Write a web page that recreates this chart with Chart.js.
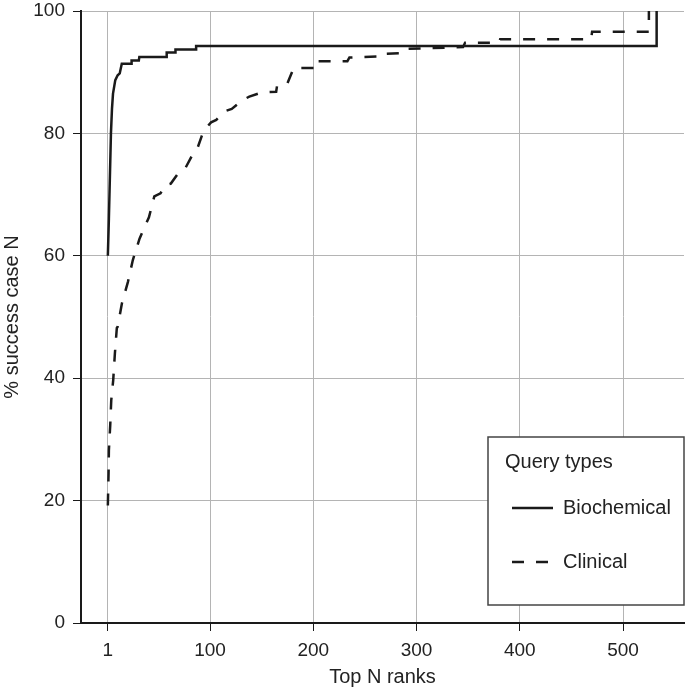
<!DOCTYPE html>
<html>
<head>
<meta charset="utf-8">
<script src="https://cdn.jsdelivr.net/npm/chart.js@4/dist/chart.umd.min.js"></script>
<style>
	body { margin: 0; background: #fff; }
	canvas { display: block; }
</style>
</head>
<body>
<canvas id="chart" width="685" height="690"></canvas>
<script>
// values
var xTicks = [1, 100, 200, 300, 400, 500];

var bioX = [1, 2, 3, 4, 5, 6, 8.2, 10.5, 12.5, 14.5, 23.5, 24, 31, 31.5, 58, 58, 66.5, 66.5, 86.5, 86.5, 532.5, 532.5];
var bioY = [60, 66, 73, 80, 84, 86.5, 88.7, 89.5, 89.8, 91.4, 91.4, 91.9, 91.9, 92.5, 92.5, 93.2, 93.2, 93.7, 93.7, 94.3, 94.3, 100];

var clinX = [1, 1.7, 2, 3.3, 4.3, 6.2, 7.8, 9.7, 10.5, 14.6, 20.4, 25.2, 31.7, 40.8, 46, 52, 56, 62, 70, 76, 82, 87, 92, 94, 101, 106, 114, 121, 132, 138, 150, 164, 165, 175, 181, 199, 199, 233, 235, 270, 271, 283, 286, 345, 347, 380, 381, 469, 470, 525, 525];
var clinY = [19.2, 24.5, 28.2, 32.3, 36.4, 39.7, 44, 48.2, 48.4, 52.2, 55.7, 59.3, 62.8, 66.3, 69.7, 70.2, 71.5, 71.8, 73.7, 74.3, 76.2, 77.2, 79.6, 80.5, 81.8, 82.2, 83.6, 84, 85.5, 86, 86.7, 86.8, 87.9, 88.2, 90.7, 90.7, 91.8, 91.8, 92.4, 92.6, 93.0, 93.1, 93.8, 94.1, 94.8, 94.8, 95.4, 95.4, 96.6, 96.6, 100];

var legendTitle = "Query types";

function points(xs, ys) {
	return xs.map(function(x, i) {
		return {x: x, y: ys[i]};
	});
}

var ink = "#1a1a1a";
var gridGray = "#b4b4b4";

Chart.defaults.font.family = "'Liberation Sans', Arial, Helvetica, sans-serif";
Chart.defaults.font.size = 19;
Chart.defaults.color = "#222";

// legend box drawn inside the plot, bottom right
var boxLegend = {
	id: "boxLegend",
	afterDraw: function(chart) {
		var ctx = chart.ctx;
		var left = 488, top = 437, right = 684, bottom = 605;
		ctx.save();
		ctx.fillStyle = "#fff";
		ctx.fillRect(left, top, right - left, bottom - top);
		ctx.strokeStyle = "#444";
		ctx.lineWidth = 1.5;
		ctx.strokeRect(left, top, right - left, bottom - top);

		ctx.fillStyle = "#222";
		ctx.font = "20px 'Liberation Sans', Arial, sans-serif";
		ctx.textBaseline = "alphabetic";
		ctx.fillText(legendTitle, 505, 468);

		chart.data.datasets.forEach(function(ds, i) {
			var y = 508 + i * 54;
			ctx.strokeStyle = ds.borderColor;
			ctx.lineWidth = ds.borderWidth;
			ctx.setLineDash(ds.borderDash || []);
			ctx.beginPath();
			ctx.moveTo(512, y);
			ctx.lineTo(553, y);
			ctx.stroke();
			ctx.setLineDash([]);
			ctx.fillText(ds.label, 563, y + 6);
		});
		ctx.restore();
	}
};

var ctx = document.getElementById("chart").getContext("2d");
var myChart = new Chart(ctx, {
	type: "line",
	data: {
		datasets: [
			{
				label: "Biochemical",
				data: points(bioX, bioY),
				borderColor: ink,
				borderWidth: 2.5,
				pointRadius: 0,
				tension: 0,
				fill: false
			},
			{
				label: "Clinical",
				data: points(clinX, clinY),
				borderColor: ink,
				borderWidth: 2.5,
				borderDash: [12, 12],
				pointRadius: 0,
				tension: 0,
				fill: false
			}
		]
	},
	options: {
		responsive: false,
		animation: false,
		layout: { padding: { top: 11, right: 1, left: 0, bottom: 0 } },
		plugins: {
			legend: { display: false },
			tooltip: { enabled: false }
		},
		scales: {
			x: {
				type: "linear",
				min: -25,
				max: 559,
				afterBuildTicks: function(scale) {
					scale.ticks = xTicks.map(function(v) { return {value: v}; });
				},
				afterFit: function(scale) {
					scale.height = 67;
					scale.paddingLeft = 0;
					scale.paddingRight = 0;
				},
				grid: { color: gridGray, lineWidth: 1, tickColor: ink, tickLength: 8 },
				border: { display: true, color: ink, width: 2 },
				ticks: { padding: 8, maxRotation: 0 },
				title: {
					display: true,
					text: "Top N ranks",
					font: { size: 20 },
					padding: { top: 0, bottom: 1 }
				}
			},
			y: {
				min: 0,
				max: 100,
				ticks: { stepSize: 20, padding: 8 },
				afterFit: function(scale) {
					scale.width = 81;
					scale.paddingTop = 0;
					scale.paddingBottom = 0;
				},
				grid: { color: gridGray, lineWidth: 1, tickColor: ink, tickLength: 8 },
				border: { display: true, color: ink, width: 2 },
				title: {
					display: true,
					text: "% success case N",
					font: { size: 20 },
					padding: { top: 0, bottom: 0 }
				}
			}
		}
	},
	plugins: [boxLegend]
});
</script>
</body>
</html>
